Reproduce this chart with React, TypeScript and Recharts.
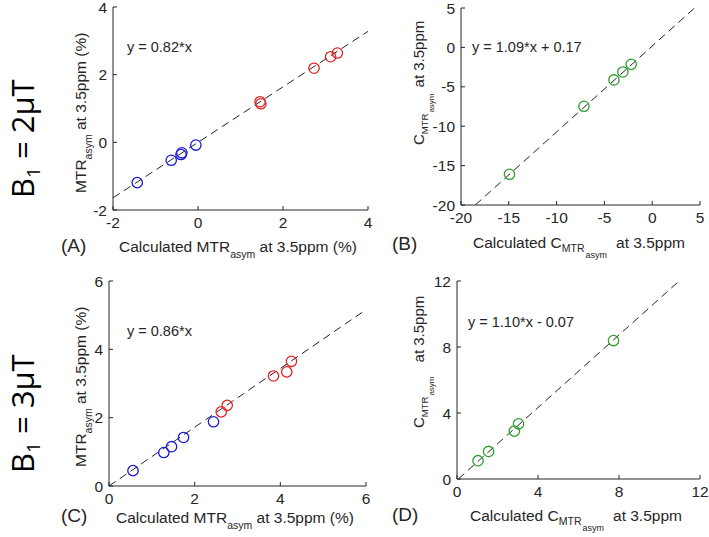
import React from 'react';
import { ScatterChart, Scatter, XAxis, YAxis, ReferenceLine } from 'recharts';

// Panel A: B1 = 2uT, MTRasym (%)
const aBlueX = [-1.43, -0.63, -0.40, -0.38, -0.05];
const aBlueY = [-1.19, -0.53, -0.36, -0.31, -0.08];
const aRedX = [1.46, 1.48, 2.73, 3.12, 3.28];
const aRedY = [1.20, 1.14, 2.19, 2.53, 2.64];
const aTicks = [-2, 0, 2, 4];
const aFit = { slope: 0.82, intercept: 0 };

// Panel B: B1 = 2uT, C_MTRasym
const bGreenX = [-14.93, -7.14, -4.0, -3.07, -2.2];
const bGreenY = [-16.1, -7.47, -4.13, -3.12, -2.15];
const bTicks = [-20, -15, -10, -5, 0, 5];
const bFit = { slope: 1.09, intercept: 0.17 };

// Panel C: B1 = 3uT, MTRasym (%)
const cBlueX = [0.56, 1.28, 1.46, 1.74, 2.44];
const cBlueY = [0.45, 0.98, 1.15, 1.42, 1.88];
const cRedX = [2.62, 2.76, 3.84, 4.15, 4.26];
const cRedY = [2.17, 2.36, 3.22, 3.34, 3.65];
const cTicks = [0, 2, 4, 6];
const cFit = { slope: 0.86, intercept: 0 };

// Panel D: B1 = 3uT, C_MTRasym
const dGreenX = [1.04, 1.56, 2.83, 3.04, 7.73];
const dGreenY = [1.11, 1.67, 2.90, 3.34, 8.39];
const dTicks = [0, 4, 8, 12];
const dFit = { slope: 1.10, intercept: -0.07 };

const BLUE = '#1a1ad8';
const RED = '#e02424';
const GREEN = '#2f9e2f';
const INK = '#262626';
const FONT = 'Liberation Sans, Arial, sans-serif';

type Series = { xs: number[]; ys: number[]; color: string };

const toPoints = (xs: number[], ys: number[]) => xs.map((x, i) => ({ x, y: ys[i] }));

function fitSegment(fit: { slope: number; intercept: number }, ticks: number[]) {
  const lo = ticks[0];
  const hi = ticks[ticks.length - 1];
  const x0 = Math.max(lo, (lo - fit.intercept) / fit.slope);
  const x1 = Math.min(hi, (hi - fit.intercept) / fit.slope);
  return [
    { x: x0, y: fit.slope * x0 + fit.intercept },
    { x: x1, y: fit.slope * x1 + fit.intercept },
  ];
}

const ring = (color: string) => (p: any) => (
  <circle cx={p.cx} cy={p.cy} r={5.2} fill="none" stroke={color} strokeWidth={1.3} />
);

function Panel(props: {
  left: number; top: number; right: number; bottom: number;
  ticks: number[]; series: Series[]; fit: { slope: number; intercept: number };
}) {
  const { left, top, right, bottom, ticks, series, fit } = props;
  const plotW = right - left;
  const plotH = bottom - top;
  const lo = ticks[0];
  const hi = ticks[ticks.length - 1];
  return (
    <div style={{ position: 'absolute', left: left - 60, top: top - 10 }}>
      <ScatterChart width={plotW + 80} height={plotH + 40} margin={{ top: 10, right: 20, left: 0, bottom: 0 }}>
        <XAxis
          type="number" dataKey="x" domain={[lo, hi]} ticks={ticks} allowDataOverflow
          height={30} tickSize={-4} tickMargin={11} interval={0}
          axisLine={{ stroke: INK, strokeWidth: 1 }} tickLine={{ stroke: INK }}
          tick={{ fill: INK, fontSize: 15.5, fontFamily: FONT }}
        />
        <YAxis
          type="number" dataKey="y" domain={[lo, hi]} ticks={ticks} allowDataOverflow
          width={60} tickSize={-4} tickMargin={10} interval={0}
          axisLine={{ stroke: INK, strokeWidth: 1 }} tickLine={{ stroke: INK }}
          tick={{ fill: INK, fontSize: 15.5, fontFamily: FONT }}
        />
        <ReferenceLine segment={fitSegment(fit, ticks)} stroke="#222" strokeWidth={1} strokeDasharray="8 5" />
        {series.map((s, i) => (
          <Scatter key={i} data={toPoints(s.xs, s.ys)} shape={ring(s.color)} isAnimationActive={false} />
        ))}
      </ScatterChart>
    </div>
  );
}

const T = { fill: INK, fontFamily: FONT } as const;

function XLabelMTR({ x, y }: { x: number; y: number }) {
  return (
    <text x={x} y={y} fontSize={15.5} {...T}>
      Calculated MTR<tspan dy={6} fontSize={10.5}>asym</tspan>
      <tspan dy={-6}> at 3.5ppm (%)</tspan>
    </text>
  );
}

function XLabelC({ x, y }: { x: number; y: number }) {
  return (
    <text x={x} y={y} fontSize={15.5} {...T}>
      Calculated C<tspan dy={4} fontSize={10.5}>MTR</tspan>
      <tspan dy={6} dx={1} fontSize={9}>asym</tspan>
      <tspan dy={-10} dx={9}>at 3.5ppm</tspan>
    </text>
  );
}

function YLabelMTR({ x, y }: { x: number; y: number }) {
  return (
    <text transform={`translate(${x},${y}) rotate(-90)`} x={0} y={0} fontSize={15.5} {...T}>
      MTR<tspan dy={6} fontSize={10.5}>asym</tspan>
      <tspan dy={-6}> at 3.5ppm (%)</tspan>
    </text>
  );
}

function YLabelC({ x, y, gap }: { x: number; y: number; gap: number }) {
  return (
    <text transform={`translate(${x},${y}) rotate(-90)`} x={0} y={0} fontSize={15} {...T}>
      C<tspan dy={4} fontSize={9.5}>MTR</tspan>
      <tspan dy={6} dx={1} fontSize={8}>asym</tspan>
      <tspan dy={-10} dx={gap}>at 3.5ppm</tspan>
    </text>
  );
}

function B1Label({ x, y, text }: { x: number; y: number; text: string }) {
  return (
    <text transform={`translate(${x},${y}) rotate(-90)`} x={0} y={0} fontSize={31}
      fontFamily="Open Sans, sans-serif" fill="#000" fontWeight={500}>
      B<tspan dy={6} fontSize={19}>1</tspan>
      <tspan dy={-6}>{` = ${text}`}</tspan>
    </text>
  );
}

export default function App() {
  return (
    <div style={{ position: 'absolute', left: 0, top: 0, width: 709, height: 537, background: '#fff', overflow: 'hidden' }}>
      <Panel left={113} top={7} right={368} bottom={210} ticks={aTicks} fit={aFit}
        series={[{ xs: aBlueX, ys: aBlueY, color: BLUE }, { xs: aRedX, ys: aRedY, color: RED }]} />
      <Panel left={461} top={8} right={700} bottom={205} ticks={bTicks} fit={bFit}
        series={[{ xs: bGreenX, ys: bGreenY, color: GREEN }]} />
      <Panel left={109} top={281} right={366} bottom={486} ticks={cTicks} fit={cFit}
        series={[{ xs: cBlueX, ys: cBlueY, color: BLUE }, { xs: cRedX, ys: cRedY, color: RED }]} />
      <Panel left={457} top={281} right={700} bottom={479} ticks={dTicks} fit={dFit}
        series={[{ xs: dGreenX, ys: dGreenY, color: GREEN }]} />
      <svg width={709} height={537} style={{ position: 'absolute', left: 0, top: 0, pointerEvents: 'none' }}>
        <B1Label x={34} y={198} text="2μT" />
        <B1Label x={34} y={473} text="3μT" />

        <text x={127} y={52} fontSize={14.5} {...T}>y = 0.82*x</text>
        <text x={472} y={52} fontSize={14.5} {...T}>y = 1.09*x + 0.17</text>
        <text x={127} y={336} fontSize={14.5} {...T}>y = 0.86*x</text>
        <text x={468} y={327} fontSize={14.5} {...T}>y = 1.10*x - 0.07</text>

        <XLabelMTR x={119} y={252} />
        <XLabelC x={473} y={248} />
        <XLabelMTR x={116} y={523} />
        <XLabelC x={470} y={521} />

        <YLabelMTR x={86} y={193} />
        <YLabelC x={424} y={145} gap={6} />
        <YLabelMTR x={86} y={467} />
        <YLabelC x={424} y={428} gap={14} />

        <text x={61} y={252} fontSize={19} {...T}>(A)</text>
        <text x={392} y={250} fontSize={19} {...T}>(B)</text>
        <text x={61} y={522} fontSize={19} {...T}>(C)</text>
        <text x={392} y={521} fontSize={19} {...T}>(D)</text>
      </svg>
    </div>
  );
}
